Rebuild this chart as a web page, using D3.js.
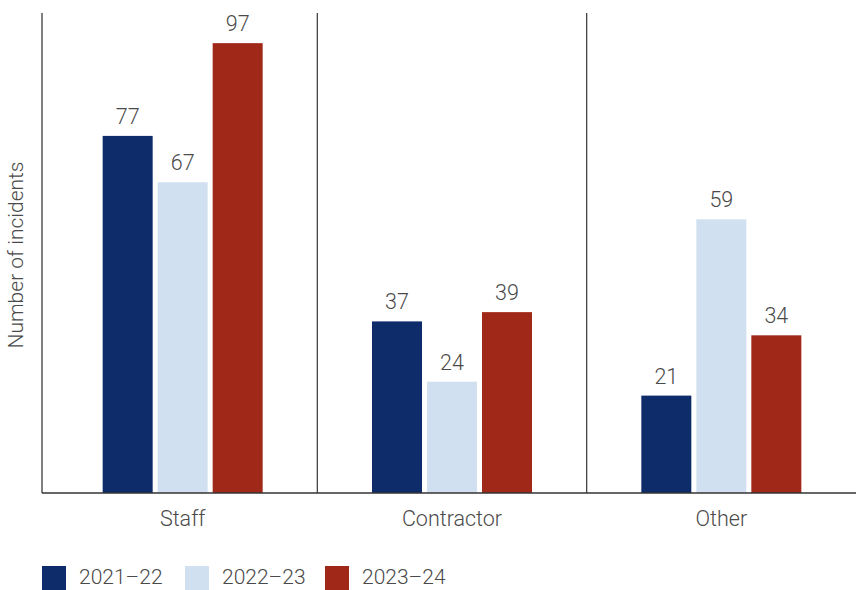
<!DOCTYPE html>
<html>
<head>
<meta charset="utf-8">
<script src="https://cdn.jsdelivr.net/npm/d3@7"></script>
<style>
  html, body { margin: 0; padding: 0; background: #fff; }
  svg { display: block; }
  text { font-family: Roboto, "Liberation Sans", Arial, sans-serif; font-weight: 300; fill: #4a4a4a; }
</style>
</head>
<body>
<svg id="chart" width="856" height="590"></svg>
<script>
// Incidents by reporter type, three financial years
const categories = ["Staff", "Contractor", "Other"];
const years = ["2021–22", "2022–23", "2023–24"];
const values2021 = [77, 37, 21];
const values2022 = [67, 24, 59];
const values2023 = [97, 39, 34];
const seriesValues = [values2021, values2022, values2023];
const colours = ["#0e2b6a", "#d0e0f0", "#a02818"];

const svg = d3.select("#chart");
const plotLeft = 42, plotRight = 856, plotTop = 13, plotBottom = 493;

const x0 = d3.scaleBand().domain(categories).range([48, plotRight]).padding(0);
const groupWidth = 160;
const x1 = d3.scaleBand().domain(years).range([0, groupWidth]).paddingInner(5 / 55).paddingOuter(0);
const y = d3.scaleLinear().domain([0, 103.5]).range([plotBottom, plotTop]);

const rows = categories.map((c, i) => ({
  category: c,
  bars: years.map((yr, j) => ({ year: yr, value: seriesValues[j][i], colour: colours[j] }))
}));

// Bars and value labels
const groups = svg.append("g").selectAll("g")
  .data(rows).join("g")
  .attr("transform", d => `translate(${x0(d.category) + x0.bandwidth() / 2 - groupWidth / 2},0)`);

groups.selectAll("rect")
  .data(d => d.bars).join("rect")
  .attr("x", d => x1(d.year))
  .attr("y", d => y(d.value))
  .attr("width", x1.bandwidth())
  .attr("height", d => plotBottom - y(d.value))
  .attr("fill", d => d.colour);

groups.selectAll("text.value")
  .data(d => d.bars).join("text")
  .attr("class", "value")
  .attr("x", d => x1(d.year) + x1.bandwidth() / 2)
  .attr("y", d => y(d.value) - 12)
  .attr("text-anchor", "middle")
  .style("font-size", "21.5px")
  .text(d => d.value);

// Dividers between categories
svg.append("g").selectAll("line")
  .data(categories.slice(1)).join("line")
  .attr("x1", d => x0(d)).attr("x2", d => x0(d))
  .attr("y1", plotTop).attr("y2", plotBottom)
  .attr("stroke", "#444").attr("stroke-width", 1.3);

// Left axis line and baseline
svg.append("line")
  .attr("x1", plotLeft).attr("x2", plotLeft).attr("y1", plotTop).attr("y2", plotBottom)
  .attr("stroke", "#555").attr("stroke-width", 1.5);

const xAxis = d3.axisBottom(x0).tickSize(0).tickPadding(18);
const xg = svg.append("g").attr("transform", `translate(0,${plotBottom})`).call(xAxis);
xg.select(".domain").attr("d", `M${plotLeft},0H${plotRight}`).attr("stroke", "#333").attr("stroke-width", 1.5);
xg.selectAll("text")
  .style("font-family", "Roboto, 'Liberation Sans', Arial, sans-serif")
  .style("font-weight", 300)
  .style("font-size", "21.5px")
  .attr("fill", "#4a4a4a");

// Axis title
svg.append("text")
  .attr("transform", `translate(23,${(plotTop + plotBottom) / 2 + 2}) rotate(-90)`)
  .attr("text-anchor", "middle")
  .style("font-size", "21px")
  .text("Number of incidents");

// Legend
const legendX = [42, 185, 325];
const legend = svg.append("g").selectAll("g")
  .data(years).join("g")
  .attr("transform", (d, i) => `translate(${legendX[i]},566)`);
legend.append("rect")
  .attr("width", 24).attr("height", 24)
  .attr("fill", (d, i) => colours[i]);
legend.append("text")
  .attr("x", 37).attr("y", 18)
  .style("font-size", "21px")
  .text(d => d);
</script>
</body>
</html>
